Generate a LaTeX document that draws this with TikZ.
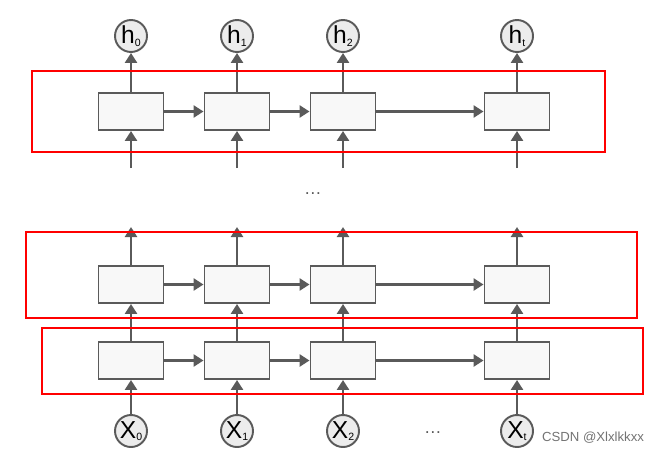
\documentclass[tikz,border=0pt]{standalone}
\usepackage{fontspec}
\setmainfont{Liberation Sans}
\usetikzlibrary{arrows.meta}
\definecolor{cellgray}{HTML}{5A5A5A}
\definecolor{cellfill}{HTML}{F8F8F8}
\definecolor{dotfill}{HTML}{ECECEC}
\newcommand{\idx}[1]{\raisebox{-0.2ex}{\fontsize{6}{7}\selectfont #1}}
\begin{document}
\begin{tikzpicture}[x=0.02cm, y=-0.02cm]
    \tikzset{
      cell/.style={draw=cellgray, fill=cellfill, line width=1.1pt,
                   minimum width=1.3cm, minimum height=0.74cm, inner sep=0pt},
      io/.style={circle, draw=cellgray, fill=dotfill, line width=1.1pt,
                 minimum size=0.64cm, inner sep=0pt,
                 font=\fontsize{14}{16}\selectfont},
      flow/.style={draw=cellgray, line width=1.6pt,
                   -{Triangle[length=0.2cm, width=0.24cm]}},
      layer/.style={draw=red, line width=1pt},
    }
    \useasboundingbox (0,0) rectangle (658,453);

    % top layer
    \node[cell] (ta) at (131,111.5) {};
    \node[cell] (tb) at (237,111.5) {};
    \node[cell] (tc) at (343,111.5) {};
    \node[cell] (tt) at (517,111.5) {};
    % middle layer
    \node[cell] (ma) at (131,284.5) {};
    \node[cell] (mb) at (237,284.5) {};
    \node[cell] (mc) at (343,284.5) {};
    \node[cell] (mt) at (517,284.5) {};
    % bottom layer
    \node[cell] (ba) at (131,360.5) {};
    \node[cell] (bb) at (237,360.5) {};
    \node[cell] (bc) at (343,360.5) {};
    \node[cell] (bt) at (517,360.5) {};

    % outputs and inputs
    \node[io] (ha) at (131,36) {h\idx{0}};
    \node[io] (hb) at (237,36) {h\idx{1}};
    \node[io] (hc) at (343,36) {h\idx{2}};
    \node[io] (ht) at (517,36) {h\idx{t}};
    \node[io] (xa) at (131,431) {X\idx{0}};
    \node[io] (xb) at (237,431) {X\idx{1}};
    \node[io] (xc) at (343,431) {X\idx{2}};
    \node[io] (xt) at (517,431) {X\idx{t}};

    % loose ends
    \coordinate (ia) at (131,168);
    \coordinate (ib) at (237,168);
    \coordinate (ic) at (343,168);
    \coordinate (it) at (517,168);
    \coordinate (oa) at (131,227);
    \coordinate (ob) at (237,227);
    \coordinate (oc) at (343,227);
    \coordinate (ot) at (517,227);

    % vertical flow
    \draw[flow] (ta) -- (ha);  \draw[flow] (tb) -- (hb);
    \draw[flow] (tc) -- (hc);  \draw[flow] (tt) -- (ht);
    \draw[flow] (ia) -- (ta);  \draw[flow] (ib) -- (tb);
    \draw[flow] (ic) -- (tc);  \draw[flow] (it) -- (tt);
    \draw[flow] (ma) -- (oa);  \draw[flow] (mb) -- (ob);
    \draw[flow] (mc) -- (oc);  \draw[flow] (mt) -- (ot);
    \draw[flow] (ba) -- (ma);  \draw[flow] (bb) -- (mb);
    \draw[flow] (bc) -- (mc);  \draw[flow] (bt) -- (mt);
    \draw[flow] (xa) -- (ba);  \draw[flow] (xb) -- (bb);
    \draw[flow] (xc) -- (bc);  \draw[flow] (xt) -- (bt);

    % horizontal flow
    \draw[flow] (ta) -- (tb);  \draw[flow] (tb) -- (tc);  \draw[flow] (tc) -- (tt);
    \draw[flow] (ma) -- (mb);  \draw[flow] (mb) -- (mc);  \draw[flow] (mc) -- (mt);
    \draw[flow] (ba) -- (bb);  \draw[flow] (bb) -- (bc);  \draw[flow] (bc) -- (bt);

    % red frames
    \draw[layer] (32,71) rectangle (605,152);
    \draw[layer] (26,232) rectangle (637,318);
    \draw[layer] (42,328) rectangle (643,394);

    \node[text=cellgray] (gap) at (313,194) {\dots};
    \node[text=cellgray] (seq) at (433,433) {\dots};
    \node[text=black!55, font=\fontsize{7.5}{9}\selectfont] (mark) at (593,438) {CSDN @Xlxlkkxx};
  \end{tikzpicture}
\end{document}
